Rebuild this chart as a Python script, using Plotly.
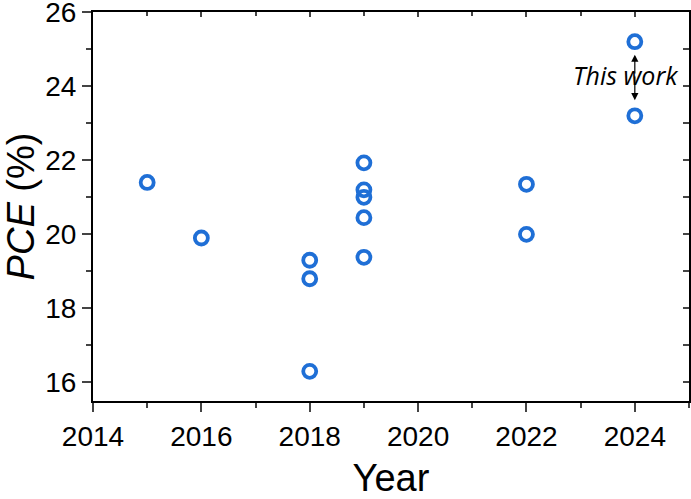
import plotly.graph_objects as go

# PCE values
years = [2015, 2016, 2018, 2018, 2018, 2019, 2019, 2019, 2019, 2019, 2022, 2022, 2024, 2024]
pce = [21.4, 19.9, 19.3, 18.8, 16.3, 21.93, 21.2, 21.0, 20.45, 19.38, 21.35, 20.0, 25.2, 23.2]

x_range = [2014, 2025]
y_range = [15.5, 26.002]

blue = "#1f6fd6"
FONT = "Arial, Liberation Sans, sans-serif"
axfont = dict(family=FONT, size=28, color="black")
titlefont = dict(family=FONT, size=38, color="black")

fig = go.Figure()
fig.add_trace(go.Scatter(
    x=years, y=pce, mode="markers",
    marker=dict(symbol="circle-open", size=13, color=blue, line=dict(width=3.8, color=blue)),
    showlegend=False,
))
# invisible trace to pin the mirror axes
fig.add_trace(go.Scatter(x=x_range, y=y_range, xaxis="x2", yaxis="y2", mode="markers",
                         marker=dict(opacity=0), hoverinfo="skip", showlegend=False))

common = dict(showline=True, linewidth=2, linecolor="black", showgrid=False, zeroline=False,
              automargin=False, tickwidth=2)

fig.update_layout(
    width=691, height=499,
    margin=dict(l=93, r=2, t=12, b=98),
    paper_bgcolor="white", plot_bgcolor="white",
    xaxis=dict(
        range=x_range, dtick=2, tick0=2014, ticks="outside", ticklen=9,
        tickfont=axfont, ticklabeloverflow="allow", **common,
        minor=dict(dtick=1, ticks="outside", ticklen=5, tickwidth=2, showgrid=False),
        title=dict(text="Year", font=titlefont, standoff=24),
    ),
    yaxis=dict(
        range=y_range, dtick=2, tick0=16, ticks="outside", ticklen=9,
        tickfont=axfont, ticklabeloverflow="allow", **common,
        minor=dict(dtick=1, ticks="outside", ticklen=5, tickwidth=2, showgrid=False),
        title=dict(text="<i>PCE</i> (%)", font=titlefont, standoff=16),
    ),
    xaxis2=dict(
        range=x_range, overlaying="x", side="top", dtick=2, tick0=2014, ticks="inside", ticklen=5,
        showticklabels=False, **common,
        minor=dict(dtick=1, ticks="inside", ticklen=4, tickwidth=2, showgrid=False),
    ),
    yaxis2=dict(
        range=y_range, overlaying="y", side="right", dtick=2, tick0=16, ticks="inside", ticklen=6,
        showticklabels=False, **common,
        minor=dict(dtick=1, ticks="inside", ticklen=6, tickwidth=2, showgrid=False),
    ),
)

# "This work" label with arrows to the two 2024 points
fig.add_annotation(x=2023.82, y=24.3, text="<i>This work</i>", showarrow=False,
                   font=dict(family="Open Sans, sans-serif", size=25, color="black"))
for tip in (24.85, 23.62):
    fig.add_annotation(x=2024, y=tip, ax=2024, ay=24.3, axref="x", ayref="y", xref="x", yref="y",
                       text="", showarrow=True, arrowhead=2, arrowsize=1.2, arrowwidth=1.2, arrowcolor="black")

# page body has an 8px default margin; drop it so the figure fills the window
fig.write_html("out.html", config={"displayModeBar": False},
               post_script="document.body.style.margin='0';")
